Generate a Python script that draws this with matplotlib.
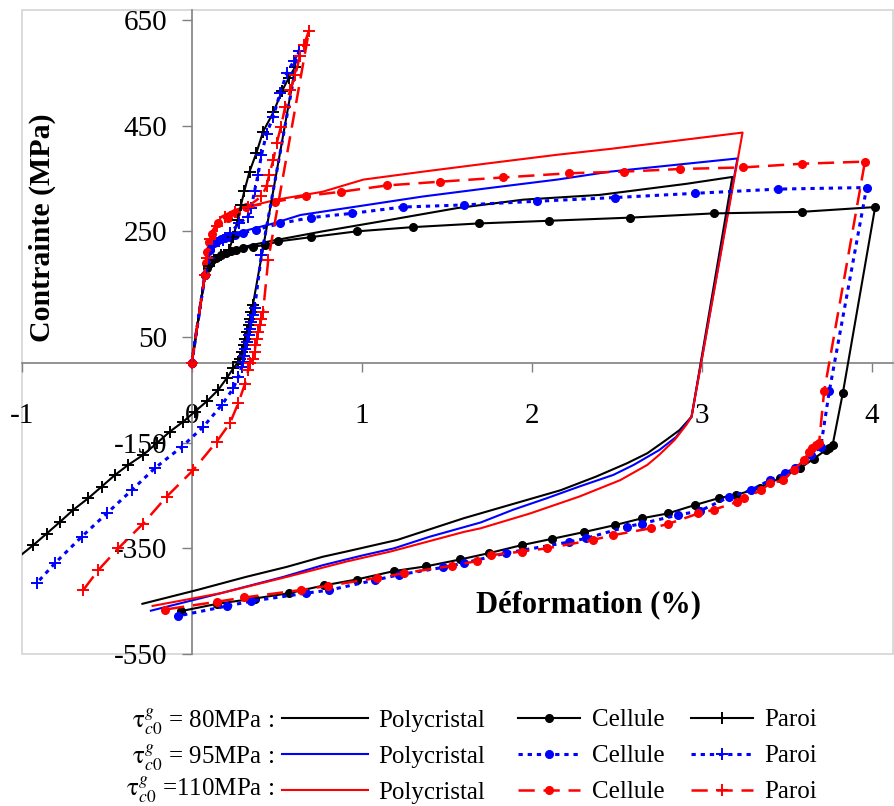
import matplotlib
matplotlib.use("Agg")
import matplotlib.pyplot as plt
from matplotlib.lines import Line2D
from matplotlib.patches import Rectangle

plt.rcParams['font.family'] = ['Liberation Serif', 'DejaVu Serif']
plt.rcParams['mathtext.fontset'] = 'stix'

# ---------------- data (strain %, stress MPa) ----------------
# Polycristal
poly80_x = [0, 0.078, 0.108, 0.157, 0.235, 0.353, 0.47, 0.77, 1.17, 1.56, 1.95, 2.4, 2.91, 3.18,
            2.94, 2.87, 2.79, 2.68, 2.56, 2.38, 2.17, 1.89, 1.60, 1.21, 0.91, 0.77, 0.56, 0.32, 0.03, -0.29]
poly80_y = [0, 168, 193, 205, 215, 224, 232, 250, 272, 294, 310, 319, 340, 353,
            -101, -126, -145, -170, -189, -214, -240, -266, -293, -334, -356, -366, -385, -404, -429, -455]
poly95_x = [0, 0.078, 0.098, 0.137, 0.196, 0.30, 0.48, 0.64, 0.97, 1.36, 1.75, 2.15, 2.46, 3.21,
            2.94, 2.85, 2.75, 2.60, 2.48, 2.28, 2.09, 1.89, 1.70, 1.40, 1.19, 1.01, 0.77, 0.54, 0.17, -0.24]
poly95_y = [0, 168, 212, 234, 243, 250, 265, 281, 297, 316, 332, 348, 363, 388,
            -101, -139, -164, -192, -211, -233, -255, -277, -301, -328, -350, -363, -382, -404, -435, -468]
poly110_x = [0, 0.078, 0.088, 0.118, 0.176, 0.255, 0.333, 0.5, 0.77, 1.01, 1.36, 1.75, 2.15, 2.46, 3.24,
             2.94, 2.91, 2.84, 2.75, 2.68, 2.52, 2.28, 1.99, 1.70, 1.60, 1.17, 0.91, 0.56, 0.17, -0.23]
poly110_y = [0, 168, 212, 250, 278, 291, 297, 310, 325, 348, 363, 379, 395, 406, 437,
             -101, -116, -145, -173, -192, -221, -252, -284, -312, -319, -356, -375, -404, -435, -459]

# Cellule
cell80_x = [0, 0.078, 0.09, 0.10, 0.12, 0.14, 0.17, 0.20, 0.23, 0.26, 0.30, 0.36, 0.43, 0.51, 0.70, 0.97,
            1.30, 1.69, 2.10, 2.58, 3.07, 3.59, 4.02,
            3.83, 3.77, 3.75, 3.73, 3.66, 3.58, 3.46, 3.34, 3.20, 3.10, 2.96, 2.80, 2.65, 2.49, 2.31, 2.12,
            1.94, 1.75, 1.58, 1.38, 1.19, 0.97, 0.78, 0.57, 0.37, 0.15, -0.065]
cell80_y = [0, 168, 180, 188, 195, 200, 205, 209, 212, 215, 218, 221, 224, 231, 239, 250,
            258, 265, 270, 276, 284, 287, 296,
            -56, -154, -160, -164, -180, -198, -217, -236, -249, -255, -268, -284, -293, -306, -319, -332,
            -344, -359, -371, -384, -393, -409, -420, -435, -445, -455, -469]
cell95_x = [0, 0.078, 0.09, 0.108, 0.13, 0.147, 0.17, 0.196, 0.225, 0.255, 0.30, 0.38, 0.52, 0.70, 0.94,
            1.24, 1.60, 2.03, 2.49, 2.96, 3.45, 3.97,
            3.75, 3.70, 3.64, 3.55, 3.49, 3.40, 3.29, 3.16, 2.99, 2.86, 2.65, 2.56, 2.32, 2.22, 1.85,
            1.60, 1.48, 1.22, 1.08, 0.81, 0.67, 0.35, 0.21, -0.08]
cell95_y = [0, 168, 190, 215, 228, 231, 235, 237, 240, 243, 247, 253, 265, 276, 284,
            296, 300, 307, 314, 322, 330, 333,
            -53, -158, -173, -198, -208, -221, -240, -253, -279, -287, -303, -309, -331, -338, -359,
            -378, -386, -400, -410, -429, -435, -450, -459, -478]
cell110_x = [0, 0.078, 0.085, 0.09, 0.10, 0.12, 0.157, 0.215, 0.26, 0.32, 0.49, 0.67, 0.88, 1.15, 1.46,
             1.83, 2.22, 2.54, 2.87, 3.24, 3.59, 3.96,
             3.72, 3.69, 3.67, 3.65, 3.63, 3.60, 3.54, 3.48, 3.40, 3.35, 3.25, 3.21, 3.07, 2.98, 2.80, 2.70,
             2.48, 2.36, 2.09, 1.94, 1.76, 1.68, 1.53, 1.25, 1.09, 0.80, 0.64, 0.31, 0.15, -0.16]
cell110_y = [0, 168, 190, 210, 230, 245, 265, 275, 285, 296, 306, 317, 325, 337, 344,
             352, 360, 363, 368, 371, 378, 382,
             -53, -151, -155, -161, -168, -183, -202, -221, -227, -240, -255, -262, -277, -284, -304, -312,
             -325, -334, -350, -356, -363, -374, -383, -397, -406, -421, -429, -443, -451, -466]

# Paroi
paroi80_x = [0, 0.078, 0.10, 0.13, 0.17, 0.22, 0.245, 0.27, 0.29, 0.31, 0.34, 0.38, 0.42, 0.48, 0.53, 0.57, 0.61,
             0.36, 0.35, 0.345, 0.335, 0.325, 0.315, 0.305, 0.295, 0.285, 0.274, 0.245, 0.206, 0.156, 0.088,
             0.019, -0.049, -0.128, -0.206, -0.285, -0.373, -0.451, -0.529, -0.608, -0.696, -0.775, -0.853,
             -0.932, -1.04]
paroi80_y = [0, 168, 185, 195, 205, 215, 240, 272, 300, 327, 363, 398, 439, 475, 515, 540, 562,
             111, 98, 85, 72, 60, 47, 34, 22, 9, 3, -9, -28, -50, -72,
             -91, -110, -129, -151, -173, -192, -211, -233, -255, -277, -300, -322,
             -344, -372]
paroi95_x = [0, 0.078, 0.10, 0.13, 0.186, 0.225, 0.28, 0.33, 0.35, 0.37, 0.39, 0.41, 0.44, 0.48, 0.52, 0.56,
             0.60, 0.63,
             0.41, 0.37, 0.36, 0.35, 0.34, 0.335, 0.325, 0.315, 0.31, 0.30, 0.294, 0.274, 0.245, 0.176, 0.068,
             -0.059, -0.216, -0.353, -0.5, -0.647, -0.804, -0.912]
paroi95_y = [0, 168, 200, 222, 234, 247, 265, 278, 294, 327, 357, 394, 435, 467, 512, 550,
             572, 592,
             205, 105, 92, 79, 66, 53, 40, 28, 15, 3, -6, -25, -47, -79, -120,
             -158, -198, -240, -284, -328, -378, -416]
paroi110_x = [0, 0.078, 0.09, 0.11, 0.147, 0.196, 0.255, 0.33, 0.41, 0.44, 0.455, 0.48, 0.50, 0.525, 0.55,
              0.58, 0.61, 0.635, 0.66, 0.69,
              0.45, 0.42, 0.41, 0.40, 0.39, 0.385, 0.375, 0.37, 0.36, 0.343, 0.333, 0.314, 0.274, 0.225,
              0.147, 0.009, -0.147, -0.285, -0.432, -0.549, -0.638]
paroi110_y = [0, 168, 200, 235, 260, 278, 287, 297, 316, 335, 357, 385, 417, 448, 486,
              518, 546, 581, 603, 630,
              196, 98, 85, 72, 60, 47, 34, 22, 9, 0, -12, -38, -75, -113,
              -148, -202, -252, -303, -350, -391, -429]

x_ticks = [-1, 0, 1, 2, 3, 4]
y_ticks = [650, 450, 250, 50, -150, -350, -550]
row_labels = [r'$\mathrm{\tau}^{g}_{c0}$ = 80MPa :', r'$\mathrm{\tau}^{g}_{c0}$ = 95MPa :',
              r'$\mathrm{\tau}^{g}_{c0}$ =110MPa :']

BLACK, BLUE, RED = '#000000', '#0000FF', '#FF0000'
colors = [BLACK, BLUE, RED]
styles = ['-', (0, (1.4, 1.6)), (0, (6.5, 3.5))]
widths = [1.5, 2.2, 1.8]

W, H = 894, 806
fig = plt.figure(figsize=(W / 100, H / 100), dpi=100)
ax = fig.add_axes([21.7 / W, 1 - 654 / H, (893 - 21.7) / W, (654 - 10) / H])
ax.set_xlim(-1, 4.125)
ax.set_ylim(-550, 669)

polys = [(poly80_x, poly80_y), (poly95_x, poly95_y), (poly110_x, poly110_y)]
cells = [(cell80_x, cell80_y), (cell95_x, cell95_y), (cell110_x, cell110_y)]
parois = [(paroi80_x, paroi80_y), (paroi95_x, paroi95_y), (paroi110_x, paroi110_y)]

for i in range(3):
    ax.plot(*polys[i], color=colors[i], lw=1.5, zorder=3)
for i in range(3):
    ax.plot(*cells[i], color=colors[i], ls=styles[i], lw=widths[i], marker='o', ms=5.5,
            mec=colors[i], mfc=colors[i], zorder=4)
for i in range(3):
    ax.plot(*parois[i], color=colors[i], ls=styles[i], lw=widths[i], marker='+', ms=9,
            mew=1.4, zorder=5)

# axes styling
for s in ['top', 'right']:
    ax.spines[s].set_visible(False)
ax.spines['left'].set_position(('data', 0))
ax.spines['bottom'].set_position(('data', 0))
for s in ['left', 'bottom']:
    ax.spines[s].set_color('#808080')
    ax.spines[s].set_linewidth(1.2)
ax.add_patch(Rectangle((0, 0), 1, 1, transform=ax.transAxes, fill=False,
                       edgecolor='#d4d4d4', lw=1.2, clip_on=False, zorder=0))
ax.set_xticks(x_ticks)
ax.set_yticks(y_ticks)
ax.set_xticklabels([str(v) for v in x_ticks])
ax.set_yticklabels([str(v) for v in y_ticks])
ax.tick_params(axis='y', direction='out', length=7, width=1, color='#808080', pad=10.5, labelsize=21)
ax.tick_params(axis='x', direction='out', length=6.5, width=1, color='#808080', pad=22, labelsize=21)
ax.patch.set_visible(False)

fig.text(42 / W, 1 - 228 / H, 'Contrainte (MPa)', rotation=90, weight='bold', size=21.5,
         ha='center', va='center')
fig.text(589 / W, 1 - 605 / H, 'Déformation (%)', weight='bold', size=22,
         ha='center', va='center')

# legend
row_y = [722, 758, 790]
for lab, yy in zip(row_labels, row_y):
    fig.text(274 / W, 1 - yy / H, lab, size=18, ha='right', va='center')

leg_kw = dict(loc='upper left', frameon=False, fontsize=18, labelspacing=0.54,
              borderpad=0, borderaxespad=0)
h_poly = [Line2D([], [], color=c, lw=1.5) for c in colors]
leg1 = fig.legend(h_poly, ['Polycristal'] * 3, bbox_to_anchor=(282 / W, 1 - 709 / H),
                  handlelength=3.44, handletextpad=0.4, **leg_kw)
h_cell = [Line2D([], [], color=c, ls=s, lw=w, marker='o', ms=5.5) for c, s, w in zip(colors, styles, widths)]
h_par = [Line2D([], [], color=c, ls=s, lw=w, marker='+', ms=9, mew=1.4) for c, s, w in zip(colors, styles, widths)]
leg2 = fig.legend(h_cell + h_par, ['Cellule'] * 3 + ['Paroi'] * 3, ncol=2,
                  bbox_to_anchor=(518 / W, 1 - 709 / H),
                  handlelength=2.48, handletextpad=0.48, columnspacing=1.04, **leg_kw)

fig.savefig('out.png', dpi=100)
